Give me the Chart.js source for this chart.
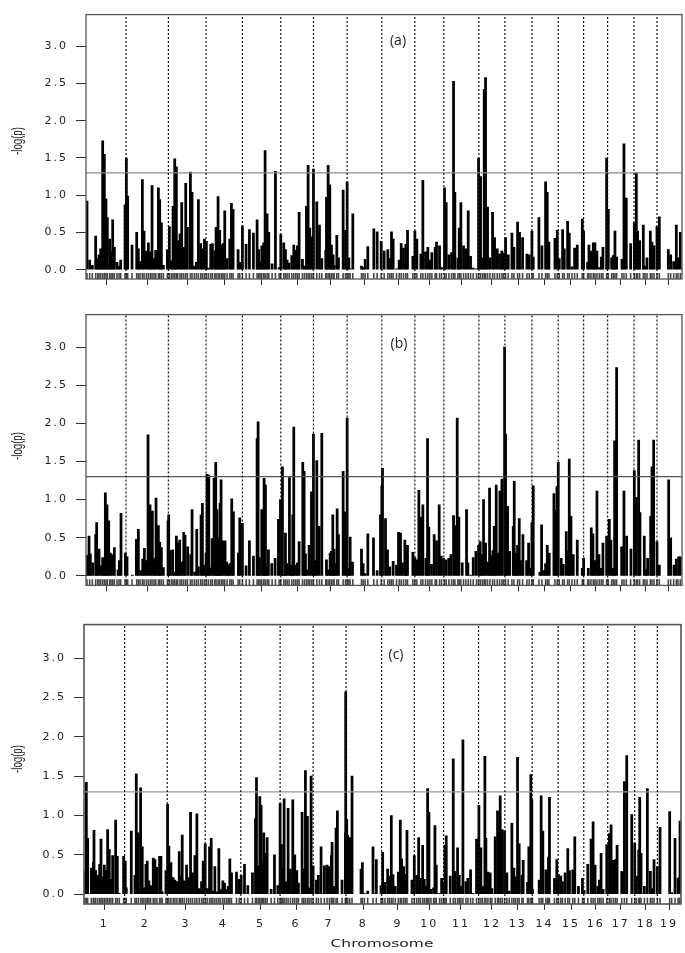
<!DOCTYPE html>
<html>
<head>
<meta charset="utf-8">
<title>Genome scan</title>
<script src="https://cdn.jsdelivr.net/npm/chart.js@4"></script>
<style>
    html, body { margin: 0; background: #fff; }
    #page { position: relative; width: 685px; height: 953px; overflow: hidden; }
    canvas { position: absolute; left: 0; }
    .note { position: absolute; font-family: "Open Sans", sans-serif; font-size: 14px; color: #222; transform: translate(-50%, -50%); }
    .ylabel { position: absolute; font-family: "Liberation Sans", sans-serif; font-size: 11px; color: #222; white-space: nowrap; transform: translate(-50%, -50%) rotate(-90deg) scale(0.88, 1.25); }
    .xlabel { position: absolute; font-family: "DejaVu Sans", sans-serif; font-size: 10px; color: #222; white-space: nowrap; transform: translate(-50%, -50%) scaleX(1.55); }
</style>
</head>
<body>
<div id="page">
    <canvas id="panelA" width="685" height="300" style="top:0"></canvas>
    <canvas id="panelB" width="685" height="300" style="top:300px"></canvas>
    <canvas id="panelC" width="685" height="343" style="top:610px"></canvas>
    <div class="note" style="left:398px;top:39px">(a)</div>
    <div class="note" style="left:399px;top:342px">(b)</div>
    <div class="note" style="left:396px;top:653px">(c)</div>
    <div class="ylabel" style="left:17px;top:141px">-log(p)</div>
    <div class="ylabel" style="left:17px;top:446px">-log(p)</div>
    <div class="ylabel" style="left:17px;top:759px">-log(p)</div>
    <div class="xlabel" style="left:382px;top:943px">Chromosome</div>
</div>
<script>
const chromosomes = ["1","2","3","4","5","6","7","8","9","10","11","12","13","14","15","16","17","18","19"];
const yTicks = [0, 0.5, 1, 1.5, 2, 2.5, 3];
const threshold = 1.3;

// chromosome ends and centres, panels a and b
const chromEnds = [120,247,360,469,584,682,783,887,986,1073,1178,1256,1337,1416,1492,1564,1643,1712];
const chromMids = [61,184,304,414,526,634,733,834,937,1029,1125,1217,1296,1376,1453,1528,1604,1678,1746];
// panel c is slightly offset in the figure
const chromEndsC = [122,250,364,471,589,688,787,894,992,1080,1185,1264,1346,1424,1501,1573,1654,1722];
const chromMidsC = [61,184,306,418,530,637,736,839,943,1037,1132,1225,1303,1383,1463,1537,1612,1687,1757];

const posA = [3,11,19,29,35,39,44,50,55,60,64,71,75,80,85,93,99,104,117,121,125,138,152,157,162,169,174,181,187,193,198,204,209,217,221,226,232,244,250,256,261,266,271,275,282,287,293,299,304,313,318,325,331,337,344,349,355,361,367,374,379,386,390,396,401,407,411,416,423,431,436,441,456,461,469,480,490,502,513,518,522,527,533,537,543,548,558,568,579,584,593,598,603,609,617,623,629,634,639,649,655,661,666,671,677,682,692,700,707,719,721,726,731,736,741,744,752,757,
    771,778,783,788,792,800,826,831,837,845,863,873,885,894,905,911,916,921,931,939,945,952,959,964,980,986,992,1004,1010,1018,1025,1031,1037,1047,1051,1060,1066,1075,1080,1088,1096,1102,1106,1115,1119,1124,1132,1139,1146,1153,1161,1171,1177,1183,1189,1194,1198,1204,1211,1219,1225,1233,1240,1247,1252,1258,1266,1277,1283,1294,1300,1309,1322,1329,1337,1341,1358,1367,1378,1383,1388,1406,1413,1419,1429,1434,1444,1449,1457,1465,1473,1488,1492,1504,1508,1514,1521,1526,1532,1539,1545,1550,1561,1566,1576,1581,1586,1591,1607,1613,1620,1633,1644,1650,1654,1660,1671,1676,1682,1692,1697,1703,1712,1719,1746,1753,1762,1770,1775,1782];
const valA = [.92,.13,.06,.45,.15,.2,.28,1.73,1.55,.95,.7,.41,.24,.67,.3,.1,.05,.13,.87,1.5,.99,.33,.5,.28,.11,1.21,.52,.25,.36,.24,1.13,.15,.26,1.1,.94,.63,.06,.27,.58,.12,.85,1.49,1.38,.39,.48,.9,.3,1.16,.57,1.31,1.04,.05,.1,.94,.35,.28,.41,.38,.02,.34,.35,.25,.57,.98,.53,.33,.35,.79,.15,.41,.89,.81,.27,.1,.59,.34,.54,.49,.67,.27,.1,.32,.36,1.6,.75,.5,.08,1.32,.03,.47,.36,.27,.13,.09,.19,.33,.26,.32,.77,.14,.05,.85,1.4,.56,.44,1.35,.91,.6,.15,.26,.97,1.4,1.14,.33,.2,.06,.46,.16,
    1.07,.53,1.18,.16,.01,.75,.05,.03,.14,.31,.55,.51,.38,.25,.27,.15,.51,.41,.01,.13,.35,.29,.34,.53,.18,.52,.41,.21,1.2,.24,.3,.13,.23,.3,.37,.32,.03,1.1,.9,.2,.23,2.53,1.04,.16,.56,.9,.32,.28,.79,.18,.02,.01,1.5,1.25,.16,2.42,2.58,.84,.16,.77,.43,.28,.21,.25,.22,.43,.2,.49,.3,.64,.5,.43,.21,.2,.52,.17,.7,.32,1.18,1.04,.37,.42,.53,.15,.54,.28,.65,.49,.04,.29,.33,.68,.52,.1,.33,.25,.36,.36,.25,.03,.17,.3,1.5,.81,.16,.19,.52,.17,.14,1.69,.96,.35,.63,1.3,.52,.39,.6,.05,.16,.52,.37,.32,.58,.71,.27,.2,.11,.6,.16,.5];

const posB = [3,9,13,20,29,32,39,44,50,55,58,63,68,73,79,85,96,100,105,118,123,139,151,157,164,170,175,180,186,192,199,205,210,217,221,226,232,246,248,253,260,265,271,275,281,287,293,297,305,314,318,326,332,337,345,349,355,360,363,368,371,378,384,389,393,397,402,405,410,417,422,427,432,437,442,457,461,469,480,490,502,513,516,520,527,531,534,538,543,547,557,567,577,583,589,593,598,603,610,615,620,623,629,634,639,650,654,658,662,669,676,682,687,692,699,707,721,726,732,736,740,744,747,753,757,
    771,777,783,788,792,799,826,831,837,845,862,873,883,887,889,898,904,911,921,931,937,943,949,956,959,964,980,986,992,998,1004,1010,1019,1024,1028,1036,1044,1051,1059,1065,1072,1080,1088,1094,1102,1107,1113,1118,1128,1141,1145,1153,1161,1169,1177,1182,1187,1192,1198,1204,1210,1215,1220,1224,1230,1235,1241,1247,1255,1258,1264,1270,1281,1284,1289,1294,1299,1305,1310,1321,1327,1333,1337,1341,1361,1366,1372,1378,1383,1389,1403,1407,1412,1416,1425,1431,1440,1445,1449,1454,1461,1473,1488,1492,1506,1515,1520,1526,1532,1538,1543,1550,1561,1569,1574,1580,1585,1591,1606,1613,1621,1634,1644,1650,1657,1661,1674,1679,1684,1693,1697,1702,1712,1719,1747,1753,1763,1770,1777,1782];
const valB = [.27,.52,.29,.17,.54,.7,.35,.13,.24,.22,1.09,.93,.72,.3,.28,.37,.08,.2,.82,.3,.25,.01,.48,.61,.07,.22,.36,.2,1.85,.93,.85,.23,1.02,.66,.44,.37,.11,.72,.8,.33,.34,.05,.52,.43,.47,.18,.57,.53,.38,.28,.87,.05,.61,.12,.8,.95,.14,.3,1.33,1.32,.11,.49,1.28,1.49,.87,.5,.95,1.26,.46,.46,.18,.14,.16,1.01,.84,.3,.76,.69,.13,.46,.26,1.8,2.02,.24,.87,.6,1.28,1.19,.12,.34,.16,.23,.74,1,1.43,.02,.56,.16,1.29,.14,.8,1.95,.14,.17,.45,1.49,1.37,.29,.08,.4,1.1,1.86,.2,1.51,.65,1.87,.21,.08,.3,.32,.8,.35,.16,.88,.54,
    1.37,.84,2.07,.1,.51,.18,.35,.16,.03,.55,.5,.07,.8,1.18,1.41,.75,.34,.12,.19,.14,.57,.56,.17,.47,.32,.4,.31,.24,.21,1.12,.77,.93,.23,1.8,.64,.15,.54,.46,.93,.26,.23,.21,.23,.28,.79,.66,2.07,.77,.17,.87,.17,.01,.24,.32,.4,.45,.28,1,.43,.18,1.15,.27,.33,.65,1.19,.3,1.11,1.27,3,1.86,.91,.32,.65,1.24,.3,.4,.75,.2,.54,.2,.43,.1,.7,1.18,.05,.67,.07,.16,.4,.3,1.08,.86,1.17,1.49,.23,.15,.58,.33,1.53,.78,.28,.47,.1,.23,.1,.63,.55,.2,1.11,.28,.1,.43,.52,.74,.47,.1,1.77,2.73,.38,1.11,.52,.35,1.38,1.03,1.78,.83,.52,.08,.23,.78,1.43,1.78,.45,.14,1.26,.5,.14,.22,.25,.25];

const posC = [3,7,11,22,28,30,35,41,47,51,56,61,66,71,76,81,86,95,100,106,119,124,127,142,153,157,163,170,175,180,186,190,195,200,208,213,219,227,231,235,246,251,255,261,268,273,279,286,290,295,301,308,314,320,326,333,339,346,353,358,364,370,377,382,387,393,399,405,410,417,422,428,433,438,443,458,466,472,482,492,506,515,518,523,528,532,536,540,545,550,562,572,582,589,593,597,601,607,613,620,627,633,639,644,655,660,665,671,676,682,688,698,704,712,722,730,737,743,745,750,757,761,775,
    785,786,789,792,798,805,832,836,842,852,868,878,892,897,904,912,917,923,928,935,944,950,954,960,965,970,985,992,999,1005,1010,1017,1022,1028,1032,1036,1042,1050,1054,1058,1068,1074,1080,1084,1088,1100,1109,1115,1122,1127,1132,1138,1147,1153,1161,1168,1179,1186,1192,1197,1204,1207,1213,1220,1225,1235,1242,1245,1250,1256,1263,1270,1277,1285,1291,1296,1302,1307,1315,1319,1332,1336,1342,1345,1347,1367,1373,1378,1387,1392,1395,1398,1413,1420,1425,1432,1437,1445,1453,1458,1468,1474,1485,1497,1502,1513,1523,1529,1535,1543,1548,1553,1559,1570,1578,1583,1590,1596,1601,1615,1623,1630,1645,1654,1659,1666,1669,1673,1683,1692,1701,1706,1712,1722,1730,1759,1765,1775,1784,1788,1790];
const valC = [.3,1.42,.71,.33,.4,.81,.3,.24,.38,.7,.22,.37,.3,.82,.57,.19,.49,.94,.48,.01,.48,.42,.08,.8,.24,1.53,.78,1.35,.6,.08,.38,.42,.17,.11,.46,.44,.34,.48,.48,.03,.3,1.14,.61,.4,.21,.18,.16,.54,.23,.75,.17,.37,.21,1.04,.27,.49,1.02,.07,.16,.42,.64,.07,.6,.71,.04,.35,.03,.58,.06,.17,.14,.06,.1,.45,.27,.28,.19,.24,.38,.11,.27,.96,1.48,.36,1.24,1.13,.4,.78,.52,.72,.06,.5,.11,1.15,.63,.32,1.21,.16,1.09,.32,1.2,.5,.3,.14,1.04,.32,1.57,.99,.08,1.5,.36,.18,.24,.6,.36,.37,.35,.49,.66,.1,.84,1.06,.18,
    .78,2.57,.95,.75,.72,1.5,.32,.4,.01,.04,.6,.44,.11,.53,.15,.32,.23,1,.25,.1,.28,.94,.45,.35,.25,.81,.18,.49,.24,.72,.2,.62,.19,.1,1.34,1.04,.06,.08,.87,.37,.01,.2,.16,.62,.74,.23,1.72,.29,.59,.24,.1,1.96,.16,.2,.31,.01,.7,1.13,.59,.1,1.75,.71,.28,.27,.07,.73,1.06,.78,1.25,.82,.8,.27,.04,.9,.33,.22,1.74,.64,.24,.43,.15,.6,1.52,1.2,.06,.18,1.25,.8,.31,.28,.47,1.23,.2,.44,.25,.23,.16,.27,.58,.3,.31,.73,.1,.2,.05,.38,.7,.92,.37,.1,.18,.52,.06,.63,.77,.88,.43,.44,.62,.29,1.43,1.76,1.01,.65,.23,.56,1.23,.52,.1,1.34,.29,.07,.44,.35,.85,1.05,.02,.71,.2,.21,.93];

const yMin = -0.125;
const yMax = 3.425;

// frame round the plot and wider tick text
const panelPlugin = {
    id: "panelFrame",
    beforeDraw(chart) {
        chart.ctx.letterSpacing = "2px";
    },
    afterDraw(chart) {
        const a = chart.chartArea;
        const ctx = chart.ctx;
        ctx.save();
        ctx.strokeStyle = "#555";
        ctx.lineWidth = chart.options.frameWidth || 1.3;
        ctx.strokeRect(a.left, a.top, a.right - a.left, a.bottom - a.top);
        ctx.restore();
    }
};

function makePanel(id, p) {
    const separators = p.ends.flatMap(e => [{x: e, y: yMin}, {x: e, y: yMax}, {x: e, y: null}]);
    new Chart(document.getElementById(id).getContext("2d"), {
        data: {
            datasets: [
                {
                    type: "bar",
                    label: "-log(p)",
                    data: p.pos.map((x, i) => ({x: x, y: p.val[i]})),
                    backgroundColor: "#000",
                    barThickness: 2.1,
                    grouped: false,
                    order: 3
                },
                {
                    type: "bar",
                    label: "markers",
                    data: p.rug.map(x => ({x: x, y: [yMin, -0.05]})),
                    backgroundColor: "#444",
                    barThickness: 0.9,
                    grouped: false,
                    order: 4
                },
                {
                    type: "line",
                    label: "threshold",
                    data: [{x: 0, y: threshold}, {x: p.xMax, y: threshold}],
                    borderColor: p.lineColor,
                    borderWidth: 1.2,
                    pointRadius: 0,
                    order: 2
                },
                {
                    type: "line",
                    label: "chromosome ends",
                    data: separators,
                    borderColor: "#111",
                    borderWidth: 1.2,
                    borderDash: [2, 2],
                    pointRadius: 0,
                    spanGaps: false,
                    order: 1
                }
            ]
        },
        options: {
            responsive: false,
            animation: false,
            events: [],
            frameWidth: p.frameWidth,
            layout: { padding: { top: p.top, right: p.right, left: 0, bottom: 0 } },
            plugins: { legend: { display: false }, tooltip: { enabled: false } },
            scales: {
                x: {
                    type: "linear",
                    min: 0,
                    max: p.xMax,
                    offset: false,
                    border: { display: false },
                    grid: { offset: false, drawOnChartArea: false, drawTicks: true, tickLength: 6, color: "#333" },
                    afterBuildTicks: scale => { scale.ticks = p.mids.map(m => ({value: m})); },
                    afterFit: scale => { scale.height = p.below; },
                    ticks: {
                        display: p.showLabels,
                        autoSkip: false,
                        maxRotation: 0,
                        padding: 8,
                        color: "#222",
                        font: { family: "DejaVu Sans", size: 11 },
                        callback: (value, index) => chromosomes[index]
                    }
                },
                y: {
                    min: yMin,
                    max: yMax,
                    border: { display: false },
                    grid: { drawOnChartArea: false, drawTicks: true, tickLength: 10, color: "#333" },
                    afterBuildTicks: scale => { scale.ticks = yTicks.map(v => ({value: v})); },
                    afterFit: scale => { scale.width = p.left; },
                    ticks: {
                        padding: 8,
                        color: "#222",
                        font: { family: "DejaVu Sans", size: 11 },
                        callback: value => value.toFixed(1)
                    }
                }
            }
        },
        plugins: [panelPlugin]
    });
}

makePanel("panelA", {pos: posA, val: valA, rug: posA, ends: chromEnds, mids: chromMids, xMax: 1787, left: 86, right: 3, top: 4, below: 21, showLabels: false, lineColor: "#888", frameWidth: 1.3});
makePanel("panelB", {pos: posB, val: valB, rug: posA, ends: chromEnds, mids: chromMids, xMax: 1787, left: 86, right: 3, top: 1, below: 9, showLabels: false, lineColor: "#555", frameWidth: 1.3});
makePanel("panelC", {pos: posC, val: valC, rug: posC, ends: chromEndsC, mids: chromMidsC, xMax: 1793, left: 84, right: 4, top: 6, below: 49, showLabels: true, lineColor: "#999", frameWidth: 1.6});
</script>
</body>
</html>
